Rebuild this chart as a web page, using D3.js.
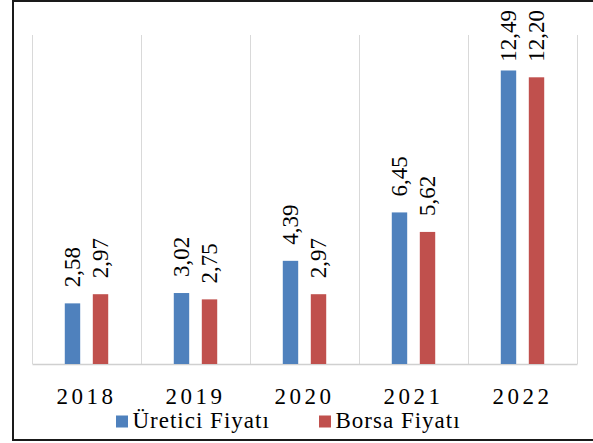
<!DOCTYPE html>
<html>
<head>
<meta charset="utf-8">
<script src="https://cdnjs.cloudflare.com/ajax/libs/d3/7.8.5/d3.min.js"></script>
<style>
    body { margin: 0; background: #ffffff; }
    svg { display: block; }
    svg text { font-family: "Liberation Serif", Tinos, "Times New Roman", "DejaVu Serif", serif; fill: #000000; }
</style>
</head>
<body>
<div class="chart"></div>
<script>
var svgWidth = 593;
var svgHeight = 443;

// chart data
var years = ["2018", "2019", "2020", "2021", "2022"];
var seriesNames = ["Üretici Fiyatı", "Borsa Fiyatı"];
var ureticiFiyati = [2.58, 3.02, 4.39, 6.45, 12.49];
var borsaFiyati = [2.97, 2.75, 2.97, 5.62, 12.20];
var seriesColors = ["#4f81bd", "#c0504d"];

var margin = {
    top: 35,
    right: 16,
    bottom: 79,
    left: 32
};

var width = svgWidth - margin.left - margin.right;
var height = svgHeight - margin.top - margin.bottom;

var svg = d3
    .select(".chart")
    .append("svg")
    .attr("width", svgWidth)
    .attr("height", svgHeight);

// frame around the whole chart (right side runs off the picture)
svg.append("rect")
    .attr("x", 13)
    .attr("y", 1)
    .attr("width", svgWidth + 10)
    .attr("height", 439)
    .attr("fill", "none")
    .attr("stroke", "#1a1a1a")
    .attr("stroke-width", 2);

var chartGroup = svg.append("g")
    .attr("transform", `translate(${margin.left}, ${margin.top})`);

// build rows from the arrays
var rows = years.map(function (year, i) {
    return { year: year, values: [ureticiFiyati[i], borsaFiyati[i]] };
});

// scales
var xBandScale = d3.scaleBand()
    .domain(years)
    .range([0, width])
    .padding(0);

var xInnerScale = d3.scaleBand()
    .domain(d3.range(seriesNames.length))
    .range([0, xBandScale.bandwidth()])
    .paddingInner(0.45)
    .paddingOuter(1.17);

var yLinearScale = d3.scaleLinear()
    .domain([0, 14])
    .range([height, 0]);

// vertical gridlines between categories
var gridX = years.map(d => xBandScale(d)).concat([width]);
chartGroup.selectAll(".grid")
    .data(gridX)
    .enter()
    .append("line")
    .attr("class", "grid")
    .attr("x1", d => Math.round(d) + 0.5)
    .attr("x2", d => Math.round(d) + 0.5)
    .attr("y1", 0)
    .attr("y2", height)
    .attr("stroke", "#d9d9d9")
    .attr("stroke-width", 1);

// category axis
var bottomAxis = d3.axisBottom(xBandScale).tickSize(0).tickPadding(24);
var xAxis = chartGroup.append("g")
    .attr("transform", `translate(0, ${height})`)
    .call(bottomAxis);

xAxis.attr("font-family", null).attr("font-size", null);

xAxis.select(".domain")
    .attr("stroke", "#d0d0d0")
    .attr("stroke-width", 1.5);

xAxis.selectAll("text")
    .attr("font-size", "23px")
    .attr("letter-spacing", "3.5px")
    .attr("fill", "#000");

// bars
var yearGroups = chartGroup.selectAll(".year")
    .data(rows)
    .enter()
    .append("g")
    .attr("class", "year")
    .attr("transform", d => `translate(${xBandScale(d.year)}, 0)`);

yearGroups.selectAll("rect")
    .data(d => d.values)
    .enter()
    .append("rect")
    .attr("x", (d, i) => xInnerScale(i))
    .attr("y", d => yLinearScale(d))
    .attr("width", xInnerScale.bandwidth())
    .attr("height", d => height - yLinearScale(d))
    .attr("fill", (d, i) => seriesColors[i]);

// rotated value labels above the bars
var labels = yearGroups.selectAll(".value")
    .data(d => d.values)
    .enter()
    .append("text")
    .attr("class", "value")
    .attr("font-size", "23px")
    .attr("text-anchor", "start")
    .attr("dy", "0.33em")
    .text(d => d.toFixed(2).replace(".", ","));

labels.each(function (d, i) {
    var len = this.getComputedTextLength();
    var cx = xInnerScale(i) + xInnerScale.bandwidth() / 2;
    // keep the label inside the frame
    var y = Math.max(yLinearScale(d) - 16, len + 10 - margin.top);
    d3.select(this).attr("transform", `translate(${cx}, ${y}) rotate(-90)`);
});

// legend, items 203px apart
var legendGroup = svg.append("g")
    .attr("transform", "translate(116, 428)");

var legendItems = legendGroup.selectAll(".legend-item")
    .data(seriesNames)
    .enter()
    .append("g")
    .attr("class", "legend-item")
    .attr("transform", (d, i) => `translate(${i * 203}, 0)`);

legendItems.append("rect")
    .attr("x", 0)
    .attr("y", -12.5)
    .attr("width", 12)
    .attr("height", 12)
    .attr("fill", (d, i) => seriesColors[i]);

legendItems.append("text")
    .attr("x", 16.5)
    .attr("y", 0)
    .attr("font-size", "23px")
    .attr("letter-spacing", "1px")
    .text(d => d);
</script>
</body>
</html>
